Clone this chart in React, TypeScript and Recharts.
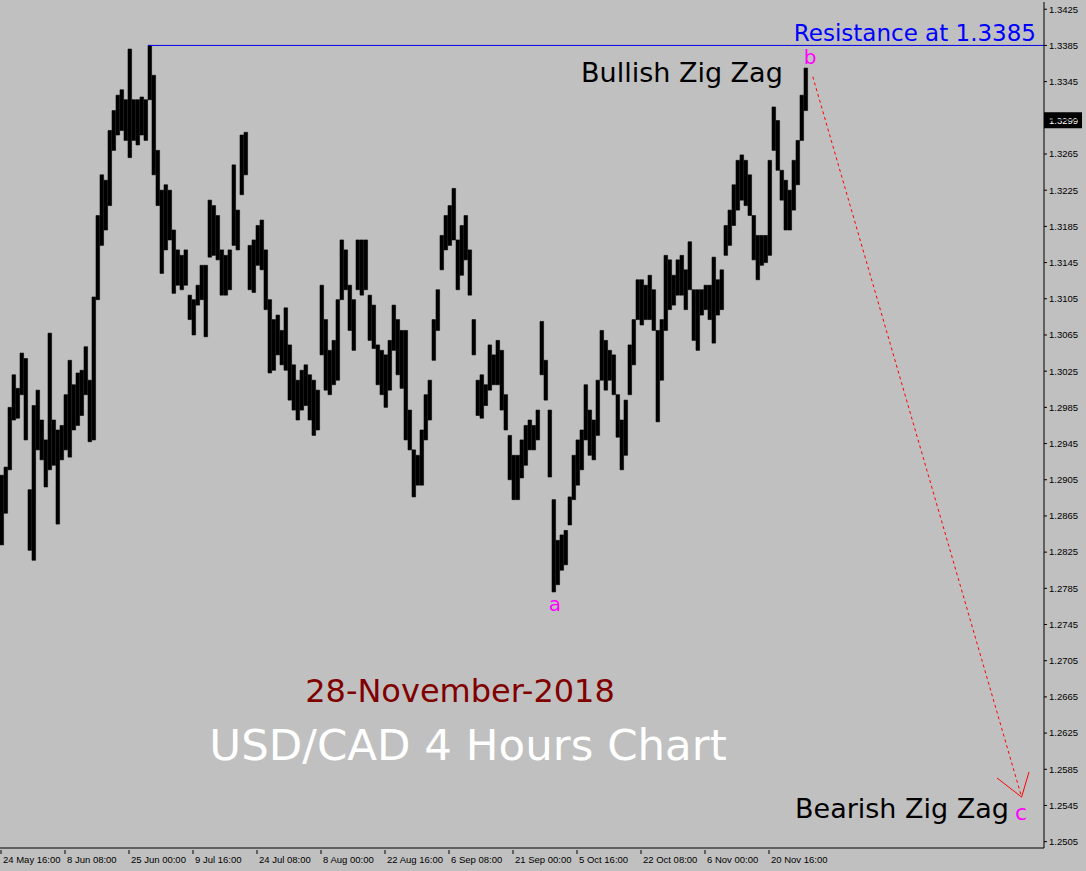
import { ComposedChart, Bar, XAxis, YAxis, ReferenceLine } from 'recharts'

// 4-hour USD/CAD bars, sampled every few candles (high / low)
const highs = [
  1.2910, 1.2919, 1.2985, 1.3021, 1.3006, 1.3045, 1.3039, 1.2894, 1.2987, 1.3004,
  1.2971, 1.2949, 1.3067, 1.2971, 1.2960, 1.2965, 1.2999, 1.3037, 1.3010, 1.3023,
  1.3026, 1.3052, 1.3015, 1.3107, 1.3197, 1.3242, 1.3236, 1.3291, 1.3313, 1.3330,
  1.3336, 1.3325, 1.3381, 1.3325, 1.3325, 1.3328, 1.3325, 1.3385, 1.3352, 1.3269,
  1.3225, 1.3231, 1.3225, 1.3181, 1.3159, 1.3153, 1.3159, 1.3109, 1.3104, 1.3120,
  1.3142, 1.3142, 1.3214, 1.3208, 1.3197, 1.3159, 1.3153, 1.3159, 1.3253, 1.3203,
  1.3286, 1.3289, 1.3164, 1.3170, 1.3186, 1.3192, 1.3159, 1.3104, 1.3082, 1.3087,
  1.3070, 1.3095, 1.3054, 1.3032, 1.3015, 1.3026, 1.3032, 1.3021, 1.3015, 1.3004,
  1.3120, 1.3082, 1.3048, 1.3059, 1.3104, 1.3170, 1.3159, 1.3120, 1.3104, 1.3170,
  1.3170, 1.3170, 1.3109, 1.3098, 1.3054, 1.3048, 1.3043, 1.3059, 1.3098, 1.3082,
  1.3070, 1.3070, 1.2982, 1.2938, 1.2932, 1.2960, 1.2999, 1.3015, 1.3082, 1.3115,
  1.3175, 1.3197, 1.3208, 1.3227, 1.3170, 1.3186, 1.3197, 1.3159, 1.3082, 1.3015,
  1.3021, 1.3010, 1.3054, 1.3043, 1.3059, 1.3048, 1.2999, 1.2954, 1.2932, 1.2932,
  1.2949, 1.2965, 1.2971, 1.2965, 1.2982, 1.3080, 1.3037, 1.2982, 1.2883, 1.2838,
  1.2844, 1.2849, 1.2886, 1.2932, 1.2949, 1.2960, 1.3010, 1.2982, 1.2971, 1.3015,
  1.3070, 1.3059, 1.3048, 1.3043, 1.2999, 1.2971, 1.2993, 1.3054, 1.3082, 1.3126,
  1.3126, 1.3120, 1.3131, 1.3115, 1.3070, 1.3082, 1.3153, 1.3148, 1.3131, 1.3148,
  1.3153, 1.3137, 1.3168, 1.3115, 1.3115, 1.3115, 1.3120, 1.3120, 1.3151, 1.3126,
  1.3137, 1.3186, 1.3203, 1.3231, 1.3258, 1.3264, 1.3258, 1.3242, 1.3197, 1.3175,
  1.3175, 1.3175, 1.3258, 1.3317, 1.3302, 1.3247, 1.3236, 1.3225, 1.3258, 1.3280,
  1.3330, 1.3360,
]

const lows = [
  1.2833, 1.2868, 1.2916, 1.2971, 1.2973, 1.2999, 1.2949, 1.2827, 1.2816, 1.2938,
  1.2927, 1.2897, 1.2916, 1.2921, 1.2856, 1.2927, 1.2938, 1.2930, 1.2960, 1.2965,
  1.2976, 1.2999, 1.2947, 1.2949, 1.3104, 1.3164, 1.3181, 1.3208, 1.3269, 1.3286,
  1.3291, 1.3280, 1.3261, 1.3280, 1.3275, 1.3286, 1.3280, 1.3325, 1.3242, 1.3208,
  1.3133, 1.3159, 1.3170, 1.3111, 1.3120, 1.3115, 1.3120, 1.3082, 1.3065, 1.3098,
  1.3104, 1.3063, 1.3151, 1.3153, 1.3148, 1.3109, 1.3109, 1.3115, 1.3164, 1.3159,
  1.3220, 1.3242, 1.3115, 1.3112, 1.3142, 1.3137, 1.3093, 1.3023, 1.3026, 1.3043,
  1.3032, 1.3026, 1.2993, 1.2982, 1.2971, 1.2982, 1.2987, 1.2971, 1.2954, 1.2960,
  1.3043, 1.3004, 1.2999, 1.3010, 1.3015, 1.3104, 1.3115, 1.3070, 1.3048, 1.3115,
  1.3109, 1.3115, 1.3059, 1.3050, 1.3010, 1.2999, 1.2985, 1.3004, 1.3048, 1.3021,
  1.3006, 1.2949, 1.2938, 1.2886, 1.2899, 1.2899, 1.2949, 1.2971, 1.3037, 1.3070,
  1.3137, 1.3159, 1.3164, 1.3170, 1.3115, 1.3131, 1.3148, 1.3109, 1.3043, 1.2976,
  1.2973, 1.2987, 1.3004, 1.3010, 1.3010, 1.2982, 1.2960, 1.2905, 1.2883, 1.2883,
  1.2907, 1.2921, 1.2938, 1.2938, 1.2949, 1.3021, 1.2993, 1.2908, 1.2781, 1.2789,
  1.2805, 1.2811, 1.2855, 1.2883, 1.2899, 1.2916, 1.2949, 1.2932, 1.2927, 1.2954,
  1.3015, 1.3004, 1.3015, 1.2999, 1.2952, 1.2916, 1.2932, 1.2999, 1.3032, 1.3082,
  1.3076, 1.3082, 1.3082, 1.3070, 1.2969, 1.3015, 1.3070, 1.3093, 1.3098, 1.3109,
  1.3109, 1.3093, 1.3115, 1.3059, 1.3048, 1.3087, 1.3093, 1.3082, 1.3056, 1.3087,
  1.3093, 1.3153, 1.3164, 1.3186, 1.3203, 1.3214, 1.3208, 1.3197, 1.3148, 1.3126,
  1.3142, 1.3145, 1.3153, 1.3269, 1.3247, 1.3214, 1.3181, 1.3181, 1.3203, 1.3231,
  1.3280, 1.3313,
]

const xTickBars = [0, 16, 32, 48, 64, 80, 96, 112, 128, 144, 160, 176, 192]
const xTickLabels = [
  '24 May 16:00', '8 Jun 08:00', '25 Jun 00:00', '9 Jul 16:00', '24 Jul 08:00',
  '8 Aug 00:00', '22 Aug 16:00', '6 Sep 08:00', '21 Sep 00:00', '5 Oct 16:00',
  '22 Oct 08:00', '6 Nov 00:00', '20 Nov 16:00',
]
const yTicks = [
  1.2505, 1.2545, 1.2585, 1.2625, 1.2665, 1.2705, 1.2745, 1.2785, 1.2825, 1.2865,
  1.2905, 1.2945, 1.2985, 1.3025, 1.3065, 1.3105, 1.3145, 1.3185, 1.3225, 1.3265,
  1.3305, 1.3345, 1.3385, 1.3425,
]

const lastPrice = 1.3299
const resistance = 1.3385
const resistanceFrom = 37
// projected zig zag leg b -> c
const legB = { x: 203.2, y: 1.33504 }
const legC = { x: 255.4, y: 1.25543 }
const arrowL = { x: 249.25, y: 1.25754 }
const arrowR = { x: 257.25, y: 1.2582 }

const data = highs.map((h, i) => ({ x: i + 0.5, range: [lows[i], h] }))
const xTicks = xTickBars.map(b => b + 0.25)

const axisFont = '"Liberation Sans", Arial, sans-serif'
const textFont = '"DejaVu Sans", Verdana, sans-serif'

const TimeTick = ({ x, y, payload }: any) => {
  const k = xTicks.indexOf(payload.value)
  return (
    <g>
      <line x1={x} x2={x} y1={y} y2={y + 4} stroke="#000" />
      <text x={x + 2} y={y + 13} fontSize={9.5} fontFamily={axisFont} fill="#000">{xTickLabels[k]}</text>
    </g>
  )
}

const PriceTag = (props: any) => {
  const vb = props.viewBox
  const x = vb.x + vb.width
  return (
    <g>
      <rect x={x} y={vb.y - 11} width={38} height={16} fill="#000" />
      <text x={x + 5} y={vb.y + 1} fontSize={9.5} fontFamily={axisFont} fill="#fff">{lastPrice.toFixed(4)}</text>
    </g>
  )
}

export default function App() {
  return (
    <div style={{ position: 'relative', width: 1086, height: 871, background: '#c0c0c0' }}>
      <style>{'body{margin:0}'}</style>
      <ComposedChart width={1086} height={871} data={data} margin={{ top: 2, right: 0, bottom: 0, left: 0 }}>
        <XAxis
          type="number"
          dataKey="x"
          domain={[0, 261]}
          ticks={xTicks}
          interval={0}
          tick={<TimeTick />}
          tickLine={false}
          tickSize={0}
          height={23}
          axisLine={{ stroke: '#000' }}
          allowDataOverflow
        />
        <YAxis
          orientation="right"
          type="number"
          domain={[1.2498, 1.3433]}
          ticks={yTicks}
          interval={0}
          width={42}
          tickSize={3}
          tickMargin={2}
          tickFormatter={(v: number) => v.toFixed(4)}
          tick={{ fontSize: 9.5, fontFamily: axisFont, fill: '#000' }}
          axisLine={{ stroke: '#000' }}
          tickLine={{ stroke: '#000' }}
          allowDataOverflow
        />
        <Bar dataKey="range" fill="#000" stroke="#000" strokeWidth={0.6} barSize={4} isAnimationActive={false} />
        <ReferenceLine
          segment={[{ x: resistanceFrom, y: resistance }, { x: 261, y: resistance }]}
          stroke="#0000e6"
          strokeWidth={1}
          ifOverflow="visible"
        />
        <ReferenceLine segment={[legB, legC]} stroke="#ff0000" strokeDasharray="3 3" ifOverflow="visible" />
        <ReferenceLine segment={[arrowL, legC]} stroke="#ff0000" ifOverflow="visible" />
        <ReferenceLine segment={[arrowR, legC]} stroke="#ff0000" ifOverflow="visible" />
        <ReferenceLine y={lastPrice} stroke="none" ifOverflow="visible" label={<PriceTag />} />
      </ComposedChart>
      <svg width={1086} height={871} style={{ position: 'absolute', left: 0, top: 0, pointerEvents: 'none' }}>
        <text x={1036} y={41} textAnchor="end" fontSize={23} fontFamily={textFont} fill="#0000ff">Resistance at 1.3385</text>
        <text x={581} y={82} fontSize={27} fontFamily={textFont} fill="#000">Bullish Zig Zag</text>
        <text x={810} y={64} textAnchor="middle" fontSize={20} fontFamily={textFont} fill="#ff00ff">b</text>
        <text x={555} y={611} textAnchor="middle" fontSize={20} fontFamily={textFont} fill="#ff00ff">a</text>
        <text x={1021} y={820} textAnchor="middle" fontSize={22} fontFamily={textFont} fill="#ff00ff">c</text>
        <text x={795} y={818} fontSize={27} fontFamily={textFont} fill="#000">Bearish Zig Zag</text>
        <text x={460} y={702} textAnchor="middle" fontSize={32} fontFamily={textFont} fill="#800000">28-November-2018</text>
        <text x={468} y={760} textAnchor="middle" fontSize={43.5} fontFamily={textFont} fill="#fff">USD/CAD 4 Hours Chart</text>
      </svg>
    </div>
  )
}
